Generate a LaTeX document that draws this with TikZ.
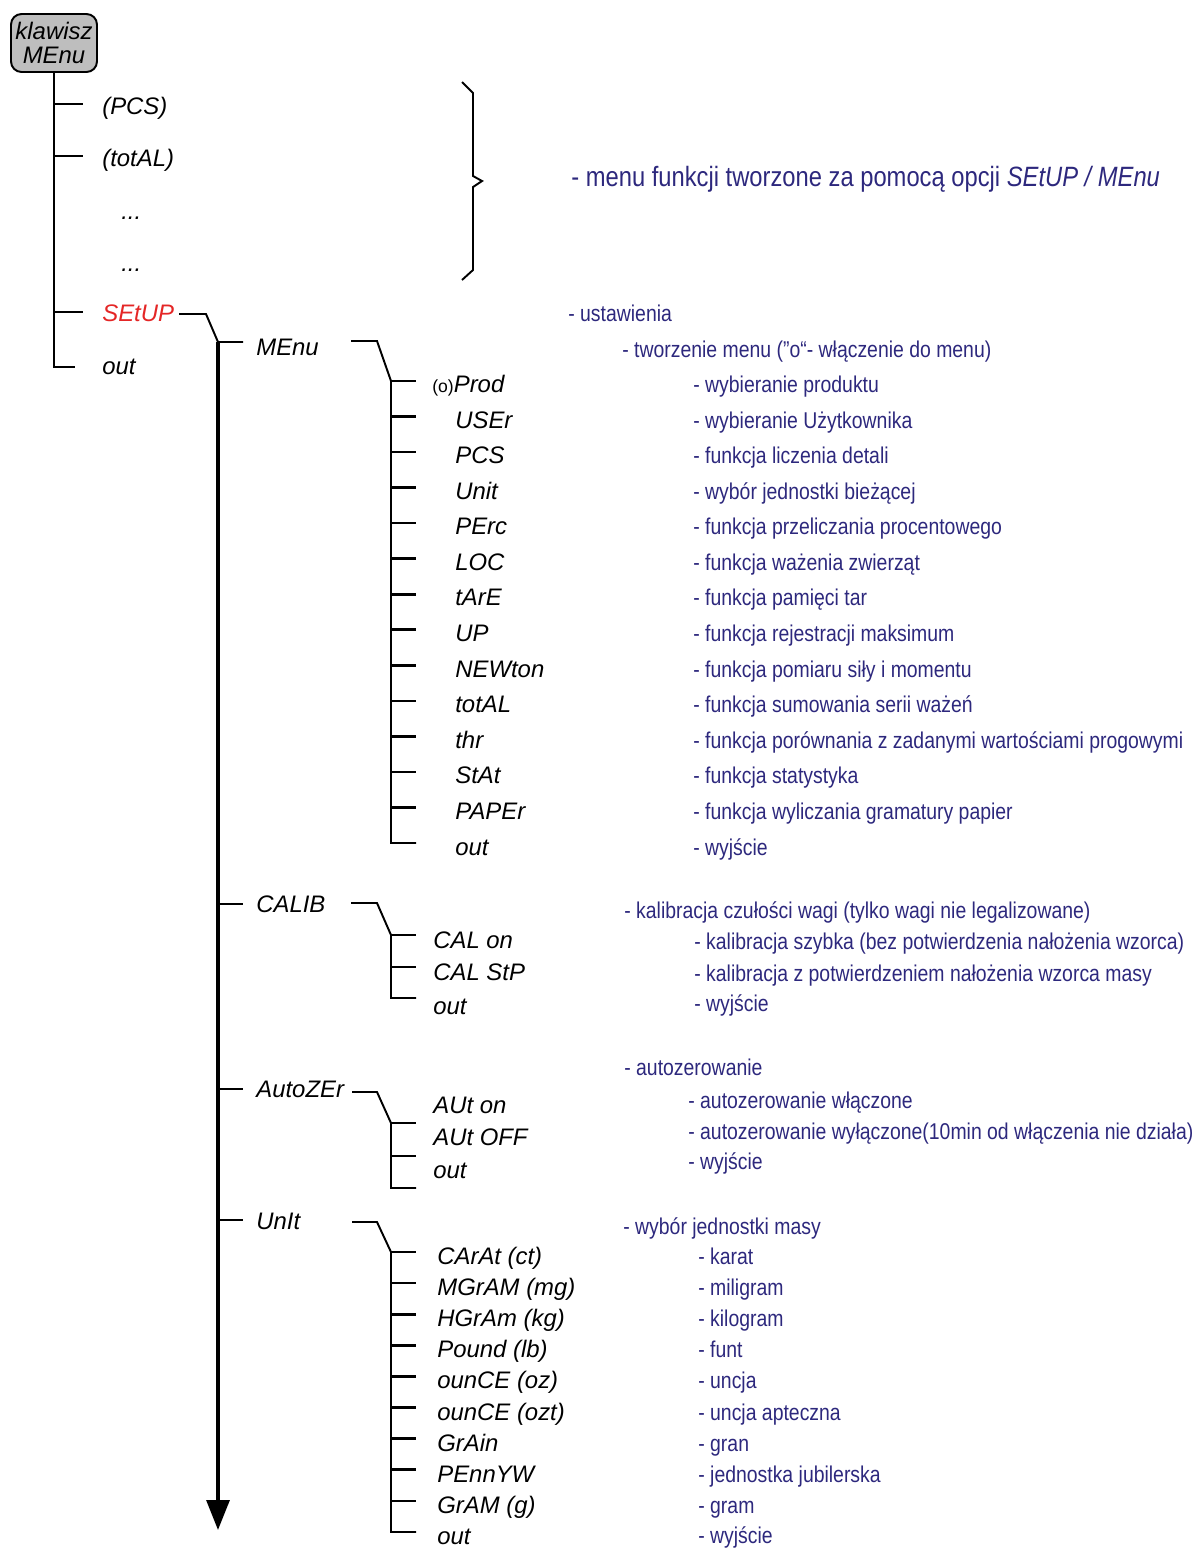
\documentclass[tikz,border=0pt]{standalone}
\usepackage{fontspec}
\setsansfont{Liberation Sans}
\newfontfamily\descfont[FakeStretch=0.85]{Liberation Sans}
\usetikzlibrary{arrows.meta}

\definecolor{descblue}{RGB}{45,40,125}
\definecolor{setupred}{RGB}{228,38,38}
\definecolor{keygray}{RGB}{190,190,190}

\tikzset{
  tree/.style={line width=1.1pt},
  tick/.style={line width=1.5pt},
  item/.style={anchor=base west, inner sep=0pt, font=\sffamily\itshape\fontsize{13.6}{16}\selectfont},
  desc/.style={anchor=base west, inner sep=0pt, text=descblue, font=\descfont\fontsize{13}{15}\selectfont},
}

\begin{document}
\begin{tikzpicture}[x=0.02cm, y=-0.02cm]
\useasboundingbox (0,0) rectangle (1195,1549);

% klawisz
\node[draw, line width=1.1pt, rounded corners=6pt, fill=keygray, minimum width=1.72cm, minimum height=1.16cm,
      inner sep=0pt, align=center, font=\sffamily\itshape\fontsize{13.6}{13.6}\selectfont] (key) at (54,43) {klawisz\\MEnu};

% pierwszy poziom
\node[item] (pcs) at (102,114) {(PCS)};
\node[item] (total) at (102,166) {(totAL)};
\node[item] (dots1) at (121,219) {...};
\node[item] (dots2) at (121,271) {...};
\node[item, text=setupred] (setup) at (102,321) {SEtUP};
\node[item] (out0) at (102,374) {out};

\coordinate (kend) at (54,367);
\draw[tree] (key.south) -- (kend) -- ++(21,0);
\foreach \y in {104,156,312} \draw[tree] (key.south |- 0,\y) -- ++(29,0);

% klamra
\draw[tree] (462,82) -- (473,93) -- (473,176) -- (482,181) -- (473,187) -- (473,270) -- (462,280);
\node[anchor=base west, inner sep=0pt, text=descblue, font=\descfont\fontsize{15.9}{18}\selectfont] (brace) at (571,186)
  {- menu funkcji tworzone za pomocą opcji \textit{SEtUP / MEnu}};

% SEtUP
\coordinate (s0) at (179,314);
\coordinate (s1) at (206,314);
\coordinate (sb) at (218,342);
\coordinate (arr) at (218,1530);
\draw[tree] (s0) -- (s1) -- (sb) -- ++(25,0);
\draw[line width=1.8pt, -{Triangle[width=0.46cm, length=0.6cm]}] (sb) -- (arr);
\foreach \y in {904,1089,1220} \draw[tick] (sb |- 0,\y) -- ++(25,0);

\node[desc] (d_setup) at (568,321) {- ustawienia};

% MEnu
\node[item] (menu) at (256,355) {MEnu};
\node[desc] (d_menu) at (622,357) {- tworzenie menu (”o“- włączenie do menu)};
\coordinate (m0) at (351,341);
\coordinate (m1) at (377,341);
\coordinate (mb) at (391,381);
\coordinate (me) at (391,843);
\draw[tree] (m0) -- (m1) -- (mb) -- (me) -- ++(25,0);
\foreach \i in {0,...,12} \draw[tick] (mb) ++(0,{35.54*\i}) -- ++(25,0);

\node[item] (prod) at (432,392) {{\upshape\fontsize{10}{12}\selectfont(o)}Prod};
\node[item] (user) at (455,428) {USEr};
\node[item] (pcs2) at (455,463) {PCS};
\node[item] (unit) at (455,499) {Unit};
\node[item] (perc) at (455,534) {PErc};
\node[item] (loc) at (455,570) {LOC};
\node[item] (tare) at (455,605) {tArE};
\node[item] (up) at (455,641) {UP};
\node[item] (newton) at (455,677) {NEWton};
\node[item] (total2) at (455,712) {totAL};
\node[item] (thr) at (455,748) {thr};
\node[item] (stat) at (455,783) {StAt};
\node[item] (paper) at (455,819) {PAPEr};
\node[item] (out1) at (455,855) {out};

\node[desc] (d_prod) at (693,392) {- wybieranie produktu};
\node[desc] (d_user) at (693,428) {- wybieranie Użytkownika};
\node[desc] (d_pcs2) at (693,463) {- funkcja liczenia detali};
\node[desc] (d_unit) at (693,499) {- wybór jednostki bieżącej};
\node[desc] (d_perc) at (693,534) {- funkcja przeliczania procentowego};
\node[desc] (d_loc) at (693,570) {- funkcja ważenia zwierząt};
\node[desc] (d_tare) at (693,605) {- funkcja pamięci tar};
\node[desc] (d_up) at (693,641) {- funkcja rejestracji maksimum};
\node[desc] (d_newton) at (693,677) {- funkcja pomiaru siły i momentu};
\node[desc] (d_total2) at (693,712) {- funkcja sumowania serii ważeń};
\node[desc] (d_thr) at (693,748) {- funkcja porównania z zadanymi wartościami progowymi};
\node[desc] (d_stat) at (693,783) {- funkcja statystyka};
\node[desc] (d_paper) at (693,819) {- funkcja wyliczania gramatury papier};
\node[desc] (d_out1) at (693,855) {- wyjście};

% CALIB
\node[item] (calib) at (256,912) {CALIB};
\node[desc] (d_calib) at (624,918) {- kalibracja czułości wagi (tylko wagi nie legalizowane)};
\coordinate (c0) at (351,903);
\coordinate (c1) at (377,903);
\coordinate (cb) at (391,935);
\coordinate (ce) at (391,998);
\draw[tree] (c0) -- (c1) -- (cb) -- (ce) -- ++(25,0);
\foreach \y in {935,967} \draw[tick] (cb |- 0,\y) -- ++(25,0);

\node[item] (calon) at (433,948) {CAL on};
\node[item] (calstp) at (433,980) {CAL StP};
\node[item] (out2) at (433,1014) {out};
\node[desc] (d_calon) at (694,949) {- kalibracja szybka (bez potwierdzenia nałożenia wzorca)};
\node[desc] (d_calstp) at (694,981) {- kalibracja z potwierdzeniem nałożenia wzorca masy};
\node[desc] (d_out2) at (694,1011) {- wyjście};

% AutoZEr
\node[item] (autozer) at (256,1097) {AutoZEr};
\node[desc] (d_autozer) at (624,1075) {- autozerowanie};
\coordinate (a0) at (352,1092);
\coordinate (a1) at (377,1092);
\coordinate (ab) at (391,1123);
\coordinate (ae) at (391,1188);
\draw[tree] (a0) -- (a1) -- (ab) -- (ae) -- ++(25,0);
\foreach \y in {1123,1156} \draw[tick] (ab |- 0,\y) -- ++(25,0);

\node[item] (auton) at (433,1113) {AUt on};
\node[item] (autoff) at (433,1145) {AUt OFF};
\node[item] (out3) at (433,1178) {out};
\node[desc] (d_auton) at (688,1108) {- autozerowanie włączone};
\node[desc] (d_autoff) at (688,1139) {- autozerowanie wyłączone(10min od włączenia nie działa)};
\node[desc] (d_out3) at (688,1169) {- wyjście};

% UnIt
\node[item] (unit2) at (256,1229) {UnIt};
\node[desc] (d_unit2) at (623,1234) {- wybór jednostki masy};
\coordinate (u0) at (352,1222);
\coordinate (u1) at (377,1222);
\coordinate (ub) at (391,1252);
\coordinate (ue) at (391,1532);
\draw[tree] (u0) -- (u1) -- (ub) -- (ue) -- ++(25,0);
\foreach \i in {0,...,8} \draw[tick] (ub) ++(0,{31.1*\i}) -- ++(25,0);

\node[item] (carat) at (437,1264) {CArAt (ct)};
\node[item] (mgram) at (437,1295) {MGrAM (mg)};
\node[item] (hgram) at (437,1326) {HGrAm (kg)};
\node[item] (pound) at (437,1357) {Pound (lb)};
\node[item] (ounce) at (437,1388) {ounCE (oz)};
\node[item] (ouncet) at (437,1420) {ounCE (ozt)};
\node[item] (grain) at (437,1451) {GrAin};
\node[item] (pennyw) at (437,1482) {PEnnYW};
\node[item] (gram) at (437,1513) {GrAM (g)};
\node[item] (out4) at (437,1544) {out};

\node[desc] (d_carat) at (698,1264) {- karat};
\node[desc] (d_mgram) at (698,1295) {- miligram};
\node[desc] (d_hgram) at (698,1326) {- kilogram};
\node[desc] (d_pound) at (698,1357) {- funt};
\node[desc] (d_ounce) at (698,1388) {- uncja};
\node[desc] (d_ouncet) at (698,1420) {- uncja apteczna};
\node[desc] (d_grain) at (698,1451) {- gran};
\node[desc] (d_pennyw) at (698,1482) {- jednostka jubilerska};
\node[desc] (d_gram) at (698,1513) {- gram};
\node[desc] (d_out4) at (698,1543) {- wyjście};

\end{tikzpicture}
\end{document}
